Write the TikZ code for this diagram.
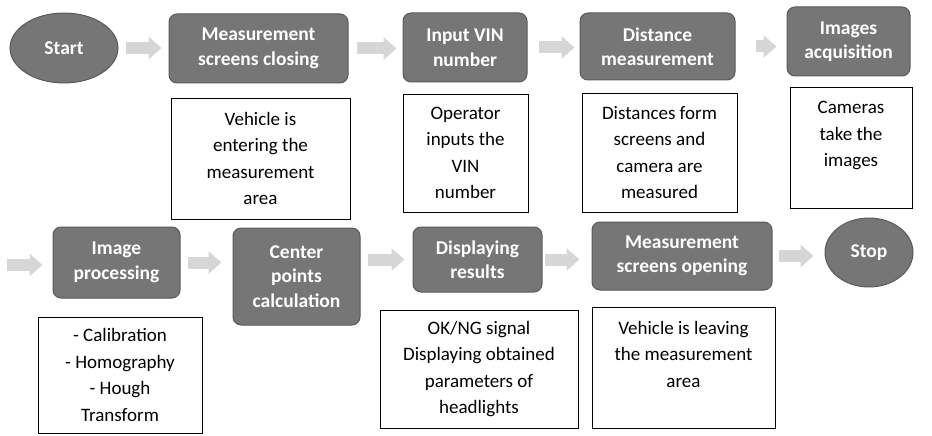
\documentclass[tikz,border=0pt]{standalone}
\usepackage{fontspec}
\setmainfont{Carlito}
\usetikzlibrary{shapes.geometric,arrows.meta}
\definecolor{boxgray}{HTML}{767676}
\definecolor{boxedge}{HTML}{5A5A5A}
\definecolor{arrgray}{HTML}{D6D6D6}
\tikzset{
  head/.style={draw=boxedge, line width=1pt, fill=boxgray, rounded corners=8pt, text=white,
    align=center, inner sep=2pt, font=\fontsize{19.5}{24.5}\selectfont\bfseries},
  oval/.style={ellipse, draw=boxedge, line width=1pt, fill=boxgray, text=white, inner sep=0pt,
    font=\fontsize{19.5}{24.5}\selectfont\bfseries},
  note/.style={draw=black, line width=0.8pt, fill=white, align=center, inner sep=2pt,
    font=\fontsize{19}{26.5}\selectfont},
  blk/.style={draw=arrgray, line width=12pt, -{Triangle[width=22pt,length=13pt]}}
}
\begin{document}
\begin{tikzpicture}[x=1pt,y=-1pt]
\useasboundingbox (0,0) rectangle (932,436);
% row 1
\node[oval, minimum width=108pt, minimum height=70pt] (start) at (64,48) {Start};
\node[head, minimum width=179pt, minimum height=69pt] (msc) at (258.5,48.5) {Measurement\\screens closing};
\node[head, minimum width=124pt, minimum height=69pt] (vin) at (465,47.5) {Input VIN\\number};
\node[head, minimum width=155pt, minimum height=67pt] (dist) at (657.5,46.5) {Distance\\measurement};
\node[head, minimum width=123pt, minimum height=69pt] (acq) at (848.5,41.5) {Images\\acquisition};
\node[note, minimum width=179pt, minimum height=121pt] (t1) at (260.5,158.5) {Vehicle is\\entering the\\measurement\\area};
\node[note, minimum width=125pt, minimum height=118pt] (t2) at (465.5,153) {Operator\\inputs the\\VIN\\number};
\node[note, minimum width=155pt, minimum height=119pt] (t3) at (659.5,152.5) {Distances form\\screens and\\camera are\\measured};
\node[note, minimum width=122pt, minimum height=121pt] (t4) at (851,147.5) {Cameras\\take the\\images\\\mbox{}};
% row 2
\coordinate (in2) at (0,265);
\node[head, minimum width=127pt, minimum height=71pt] (ip) at (116.5,262.5) {Image\\processing};
\node[head, minimum width=127pt, minimum height=97pt] (cp) at (296.5,276.5) {Center\\points\\calculation};
\node[head, minimum width=129pt, minimum height=65pt] (disp) at (477.5,259.5) {Displaying\\results};
\node[head, minimum width=180pt, minimum height=68pt] (mso) at (682,256) {Measurement\\screens opening};
\node[oval, minimum width=88pt, minimum height=69pt] (stop) at (869,252.5) {Stop};
\node[note, minimum width=164pt, minimum height=116pt] (t5) at (120,375) {- Calibration\\- Homography\\- Hough\\Transform};
\node[note, minimum width=198pt, minimum height=118pt] (t6) at (479,369) {OK/NG signal\\Displaying obtained\\parameters of\\headlights};
\node[note, minimum width=183pt, minimum height=121pt] (t7) at (683.5,367.5) {Vehicle is leaving\\the measurement\\area\\\mbox{}};
% arrows
\draw[blk, shorten <=7pt, shorten >=7pt] (start.east) -- (start.east -| msc.west);
\draw[blk, shorten <=8pt, shorten >=6pt] (msc.east) -- (msc.east -| vin.west);
\draw[blk, shorten <=11pt, shorten >=5pt] (vin.east) -- (vin.east -| dist.west);
\draw[blk, shorten <=20pt, shorten >=10pt] (dist.east) -- (dist.east -| acq.west);
\draw[blk, shorten <=7pt, shorten >=10pt] (in2) -- (in2 -| ip.west);
\draw[blk, shorten <=7pt, shorten >=11pt] (ip.east) -- (ip.east -| cp.west);
\draw[blk, shorten <=7pt, shorten >=8pt] (cp.east |- disp.west) -- (disp.west);
\draw[blk, shorten <=2pt, shorten >=12pt] (disp.east) -- (disp.east -| mso.west);
\draw[blk, shorten <=6pt, shorten >=11pt] (mso.east) -- (mso.east -| stop.west);
\end{tikzpicture}
\end{document}
